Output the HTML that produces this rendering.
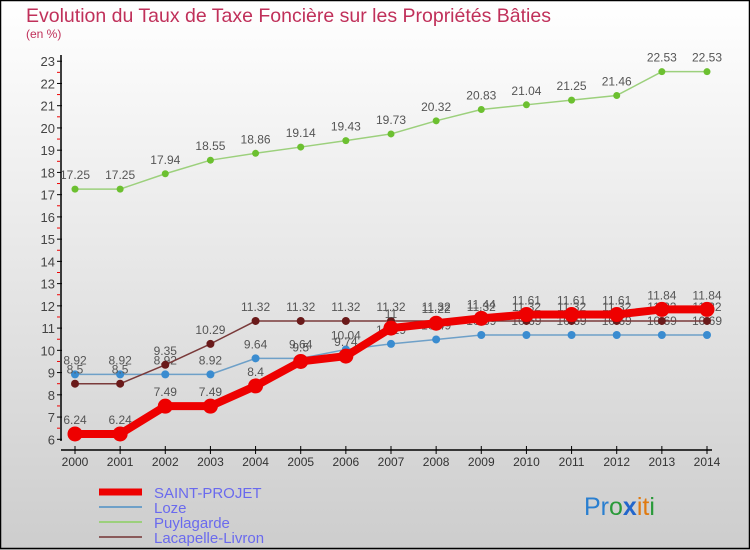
<!DOCTYPE html>
<html><head><meta charset="utf-8"><style>
body{margin:0;}
#wrap{position:relative;width:750px;height:550px;overflow:hidden;font-family:"Liberation Sans",sans-serif;}
</style></head><body>
<div id="wrap">
<svg id="svg" width="750" height="550" xmlns="http://www.w3.org/2000/svg">
<defs><linearGradient id="bg" x1="0" y1="0" x2="0" y2="1"><stop offset="0" stop-color="#ffffff"/><stop offset="1" stop-color="#cdcdcd"/></linearGradient></defs>
<rect x="0" y="0" width="750" height="550" fill="url(#bg)"/>
<rect x="0.5" y="0.5" width="749" height="548" fill="none" stroke="#000" stroke-width="1.5"/>
<text x="26" y="22" font-size="19.5" fill="#c0305a">Evolution du Taux de Taxe Foncière sur les Propriétés Bâties</text>
<text x="26" y="38" font-size="12" fill="#c0305a">(en %)</text>
<g id="axes"></g>
<g id="series"></g>
<g>
<line x1="99" y1="492" x2="142" y2="492" stroke="#ee0000" stroke-width="7"/>
<text x="154" y="498" font-size="15" fill="#6a6aee">SAINT-PROJET</text>
<line x1="99" y1="507" x2="142" y2="507" stroke="#6ea0c8" stroke-width="2"/>
<text x="154" y="513" font-size="15" fill="#6a6aee">Loze</text>
<line x1="99" y1="522" x2="142" y2="522" stroke="#9cd07c" stroke-width="2"/>
<text x="154" y="528" font-size="15" fill="#6a6aee">Puylagarde</text>
<line x1="99" y1="537" x2="142" y2="537" stroke="#8a5a5a" stroke-width="2"/>
<text x="154" y="543" font-size="15" fill="#6a6aee">Lacapelle-Livron</text>
</g>
<g font-size="25">
<text x="584" y="515"><tspan fill="#2a7fd0">Pr</tspan><tspan fill="#2a9a3a">o</tspan><tspan fill="#2266cc" font-weight="bold">x</tspan><tspan fill="#e07a10">it</tspan><tspan fill="#2a9a3a">i</tspan></text>
</g>
</svg>
</div>
<script>
const years=["2000","2001","2002","2003","2004","2005","2006","2007","2008","2009","2010","2011","2012","2013","2014"];
const saintProjet=[6.24,6.24,7.49,7.49,8.4,9.5,9.74,11,11.22,11.44,11.61,11.61,11.61,11.84,11.84];
const loze=[8.92,8.92,8.92,8.92,9.64,9.64,10.04,10.29,10.49,10.69,10.69,10.69,10.69,10.69,10.69];
const puylagarde=[17.25,17.25,17.94,18.55,18.86,19.14,19.43,19.73,20.32,20.83,21.04,21.25,21.46,22.53,22.53];
const lacapelle=[8.5,8.5,9.35,10.29,11.32,11.32,11.32,11.32,11.32,11.32,11.32,11.32,11.32,11.32,11.32];
const yTicks=[6,7,8,9,10,11,12,13,14,15,16,17,18,19,20,21,22,23];
const NS="http://www.w3.org/2000/svg";
const x=i=>75+i*(707-75)/(years.length-1);
const y=v=>439.3-(v-6)*22.24;
function mk(tag,attrs,parent){const e=document.createElementNS(NS,tag);for(const k in attrs)e.setAttribute(k,attrs[k]);parent.appendChild(e);return e;}
const axes=document.getElementById('axes');
const ya=mk('line',{x1:61,y1:55,x2:61,y2:441,stroke:'#000','stroke-width':1.5},axes);


yTicks.forEach(t=>{
  const tk=mk('line',{x1:57,y1:y(t),x2:62,y2:y(t),stroke:'#000'},axes);
  
  
  if(t<23){const h=mk('line',{x1:57,y1:y(t+0.5),x2:60,y2:y(t+0.5),stroke:'#e00'},axes);
  
  }
  const lb=mk('text',{x:55,y:y(t)+5,'font-size':13,fill:'#444','text-anchor':'end'},axes);
  lb.textContent=t;
  
  
});
const xa=mk('line',{x1:61,y1:450,x2:712,y2:450,stroke:'#000','stroke-width':1.5},axes);


years.forEach((yr,i)=>{
  const tk=mk('line',{x1:x(i),y1:446,x2:x(i),y2:454,stroke:'#000'},axes);
  
  
  const lb=mk('text',{x:x(i),y:466,'font-size':12,fill:'#333','text-anchor':'middle'},axes);
  lb.textContent=yr;
  
  
});
const sg=document.getElementById('series');
function draw(vals,name,color,w,r,dot){
  const g=mk('g',{},sg);
  
  
  const pl=mk('polyline',{points:vals.map((v,i)=>x(i)+','+y(v)).join(' '),fill:'none',stroke:color,'stroke-width':w,'stroke-linejoin':'round'},g);
  
  
  vals.forEach((v,i)=>{
    const c=mk('circle',{cx:x(i),cy:y(v),r:r,fill:dot},g);
    
    
    const t=mk('text',{x:x(i),y:y(v)-10,'font-size':12,fill:'#555','text-anchor':'middle'},g);
    t.textContent=String(v);
    
    
  });
}
draw(puylagarde,'puylagarde','#9cd07c',1.5,3.5,'#6cc030');
draw(loze,'loze','#6ea0c8',1.5,4,'#3a8cd0');
draw(lacapelle,'lacapelle-livron','#7a3a3a',1.5,4,'#6a1a1a');
draw(saintProjet,'saint-projet','#ee0000',8,7.5,'#ee0000');
</script>
</body></html>
